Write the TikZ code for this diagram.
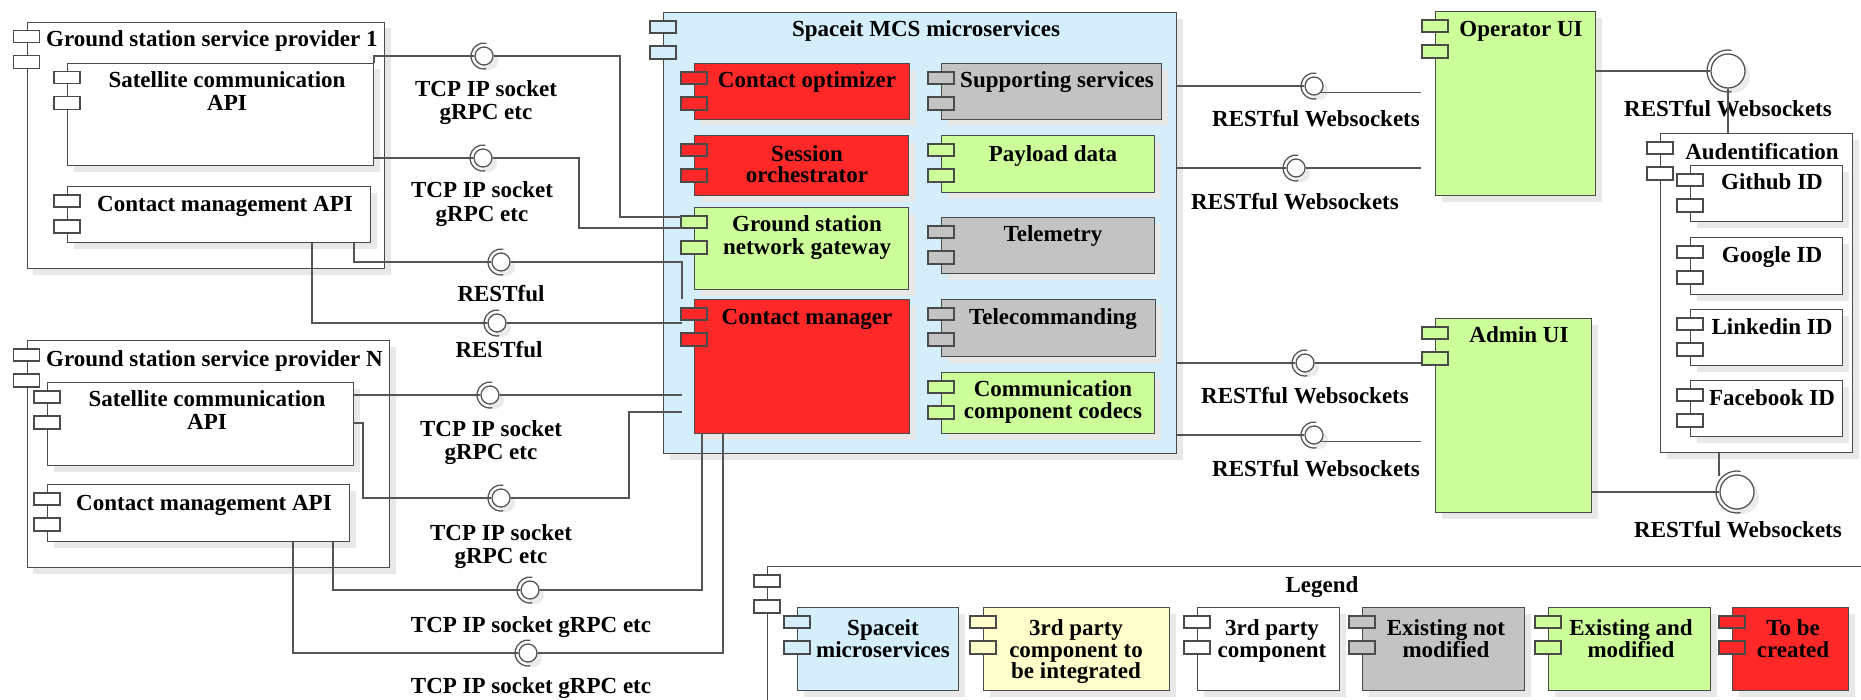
\documentclass[tikz,border=0pt]{standalone}
\usepackage{fontspec}
\setmainfont{Liberation Serif}
\usetikzlibrary{shadows,calc}
\definecolor{mcsblue}{HTML}{D5EEFB}
\definecolor{cred}{HTML}{FF2828}
\definecolor{cgreen}{HTML}{CCFF99}
\definecolor{cgrey}{HTML}{C3C3C3}
\definecolor{cyellow}{HTML}{FFFFCC}
\definecolor{edgec}{HTML}{4A4A4A}
\definecolor{wirec}{HTML}{555555}
\tikzset{
  comp/.style={draw=edgec, line width=1.1pt, rectangle, inner sep=0pt, anchor=north west,
    drop shadow={shadow xshift=6pt, shadow yshift=-6pt, fill=black!9, opacity=1}},
  iconbox/.style={draw=edgec, line width=1.1pt},
  lbl/.style={inner sep=0pt, anchor=base, font=\fontsize{23}{24}\selectfont\bfseries},
  lbll/.style={lbl, anchor=base west},
  wire/.style={draw=wirec, line width=1.3pt},
  ball/.style={circle, draw=wirec, line width=1.3pt, fill=white, minimum size=18pt, inner sep=0pt,
    drop shadow={shadow xshift=5pt, shadow yshift=-5pt, fill=black!8, opacity=1}},
  bigball/.style={ball, minimum size=34pt},
}
\newcommand\comp[6]{%
  \node[comp, fill=#6, minimum width=#4pt-#2pt, minimum height=#5pt-#3pt] (#1) at (#2,#3) {};
  \draw[iconbox, fill=#6] ([xshift=-13pt,yshift=-9pt]#1.north west) rectangle ++(26pt,-12pt);
  \draw[iconbox, fill=#6] ([xshift=-13pt,yshift=-34pt]#1.north west) rectangle ++(26pt,-13pt);
}
\newcommand\sock[2]{%
  \draw[wire] (#1.center) ++(80:#2) arc[start angle=80, end angle=280, radius=#2];
}
\begin{document}
\begin{tikzpicture}[x=1pt,y=-1pt]
\useasboundingbox (0,0) rectangle (1861,700);
\clip (0,0) rectangle (1861,700);

% ---------- Ground station service provider 1
\comp{gs1}{26.5}{21.7}{384}{268}{white}
\comp{sat1}{67}{62.7}{373}{165}{white}
\comp{cm1}{67}{186}{370}{242}{white}
\node[lbll] (t1) at (46,47) {Ground station service provider 1};
\node[lbl] (t2) at (227,88) {Satellite communication};
\node[lbl] (t3) at (227,111) {API};
\node[lbl] (t4) at (225,212) {Contact management API};

% ---------- Ground station service provider N
\comp{gsn}{26.6}{340}{389}{567}{white}
\comp{satn}{47}{382}{353}{465}{white}
\comp{cmn}{47}{484}{349}{541}{white}
\node[lbll] (t5) at (46,367) {Ground station service provider N};
\node[lbl] (t6) at (207,407) {Satellite communication};
\node[lbl] (t7) at (207,430) {API};
\node[lbl] (t8) at (204,510) {Contact management API};

% ---------- Spaceit MCS microservices
\comp{mcs}{663}{12}{1176}{453}{mcsblue}
\node[lbl] (t9) at (926,37) {Spaceit MCS microservices};
\comp{copt}{694}{63}{909}{119}{cred}
\comp{sorch}{694}{135}{908}{195}{cred}
\comp{gwy}{694}{207}{908}{289}{cgreen}
\comp{cmgr}{694}{299}{909}{433}{cred}
\comp{supp}{941}{63}{1161}{119}{cgrey}
\comp{pay}{941}{135}{1154}{192}{cgreen}
\comp{tele}{941}{217}{1154}{273}{cgrey}
\comp{tcmd}{941}{299}{1155}{356}{cgrey}
\comp{codec}{941}{372}{1154}{433}{cgreen}
\node[lbl] (t10) at (807,88) {Contact optimizer};
\node[lbl] (t11) at (807,162) {Session};
\node[lbl] (t12) at (807,183) {orchestrator};
\node[lbl] (t13) at (807,232) {Ground station};
\node[lbl] (t14) at (807,255) {network gateway};
\node[lbl] (t15) at (807,325) {Contact manager};
\node[lbl] (t16) at (1057,88) {Supporting services};
\node[lbl] (t17) at (1053,162) {Payload data};
\node[lbl] (t18) at (1053,242) {Telemetry};
\node[lbl] (t19) at (1053,325) {Telecommanding};
\node[lbl] (t20) at (1053,397) {Communication};
\node[lbl] (t21) at (1053,418) {component codecs};

% ---------- UIs
\comp{opui}{1435}{11}{1595}{195}{cgreen}
\node[lbl] (t22) at (1521,37) {Operator UI};
\comp{adui}{1435}{318}{1591}{512}{cgreen}
\node[lbl] (t23) at (1519,343) {Admin UI};

% ---------- Audentification
\comp{auth}{1660}{133}{1852}{452}{white}
\node[lbl] (t24) at (1762,160) {Audentification};
\comp{gh}{1690}{165}{1842}{221}{white}
\comp{goo}{1690}{237}{1842}{294}{white}
\comp{lin}{1690}{309}{1842}{365}{white}
\comp{fb}{1690}{380}{1842}{436}{white}
\node[lbl] (t25) at (1772,190) {Github ID};
\node[lbl] (t26) at (1772,263) {Google ID};
\node[lbl] (t27) at (1772,335) {Linkedin ID};
\node[lbl] (t28) at (1772,406) {Facebook ID};

% ---------- Legend
\comp{legend}{767}{566}{1900}{710}{white}
\node[lbl] (t29) at (1322,592) {Legend};
\comp{lg1}{797}{607}{958}{690}{mcsblue}
\comp{lg2}{983}{607}{1169}{690}{cyellow}
\comp{lg3}{1197}{607}{1339}{690}{white}
\comp{lg4}{1362}{607}{1524}{690}{cgrey}
\comp{lg5}{1548}{607}{1710}{690}{cgreen}
\comp{lg6}{1732}{607}{1848}{690}{cred}
\node[lbl] (t30) at (883,635) {Spaceit};
\node[lbl] (t31) at (883,657) {microservices};
\node[lbl] (t32) at (1076,635) {3rd party};
\node[lbl] (t33) at (1076,657) {component to};
\node[lbl] (t34) at (1076,678) {be integrated};
\node[lbl] (t35) at (1272,635) {3rd party};
\node[lbl] (t36) at (1272,657) {component};
\node[lbl] (t37) at (1446,635) {Existing not};
\node[lbl] (t38) at (1446,657) {modified};
\node[lbl] (t39) at (1631,635) {Existing and};
\node[lbl] (t40) at (1631,657) {modified};
\node[lbl] (t41) at (1793,635) {To be};
\node[lbl] (t42) at (1793,657) {created};

% ---------- lollipops
\node[ball] (b1) at (484,56) {};
\node[ball] (b2) at (483,158) {};
\node[ball] (b3) at (501,262) {};
\node[ball] (b4) at (497,323) {};
\node[ball] (b5) at (490,395) {};
\node[ball] (b6) at (501,498) {};
\node[ball] (b7) at (530,590) {};
\node[ball] (b8) at (528,653) {};
\node[ball] (b9) at (1314,86) {};
\node[ball] (b10) at (1296,168) {};
\node[ball] (b11) at (1305,363) {};
\node[ball] (b12) at (1314,435) {};
\node[bigball] (b13) at (1728,71) {};
\node[bigball] (b14) at (1737,492) {};
\foreach \b in {b1,b2,b3,b4,b5,b6,b7,b8,b9,b10,b11,b12} {\sock{\b}{13pt}}
\sock{b13}{21pt}
\sock{b14}{21pt}

% lollipop labels
\node[lbl] (l1a) at (486,97) {TCP IP socket};
\node[lbl] (l1b) at (486,120) {gRPC etc};
\node[lbl] (l2a) at (482,198) {TCP IP socket};
\node[lbl] (l2b) at (482,222) {gRPC etc};
\node[lbl] (l3) at (501,302) {RESTful};
\node[lbl] (l4) at (499,358) {RESTful};
\node[lbl] (l5a) at (491,437) {TCP IP socket};
\node[lbl] (l5b) at (491,460) {gRPC etc};
\node[lbl] (l6a) at (501,540) {TCP IP socket};
\node[lbl] (l6b) at (501,563) {gRPC etc};
\node[lbl] (l7) at (531,632) {TCP IP socket gRPC etc};
\node[lbl] (l8) at (531,693) {TCP IP socket gRPC etc};
\node[lbl] (l9) at (1316,127) {RESTful Websockets};
\node[lbl] (l10) at (1295,210) {RESTful Websockets};
\node[lbl] (l11) at (1305,404) {RESTful Websockets};
\node[lbl] (l12) at (1316,476) {RESTful Websockets};
\node[lbl] (l13) at (1728,117) {RESTful Websockets};
\node[lbl] (l14) at (1738,537) {RESTful Websockets};

% ---------- connector end points
\coordinate (gw1) at (682,217);
\coordinate (gw2) at (682,228);
\coordinate (cm3) at (682,299);
\coordinate (cm4) at (682,323);
\coordinate (cm5) at (682,395);
\coordinate (cm6) at (682,412);
\coordinate (s6) at (353,423);
\coordinate (oi) at (1421,0);
\coordinate (a14) at (1719,476);

% ---------- connectors left
\draw[wire] (sat1.north east) |- (b1.west);
\draw[wire] (b1.east) -| (620,217) -- (gw1);
\draw[wire] (sat1.east |- b2.west) -- (b2.west);
\draw[wire] (b2.east) -| (579,228) -- (gw2);
\draw[wire] ([xshift=-17pt]cm1.south east) |- (b3.west);
\draw[wire] (b3.east) -| (cm3);
\draw[wire] ([xshift=-59pt]cm1.south east) |- (b4.west);
\draw[wire] (b4.east) -- (cm4);
\draw[wire] (satn.east |- b5.west) -- (b5.west);
\draw[wire] (b5.east) -- (cm5);
\draw[wire] (s6) -| (363,498) -- (b6.west);
\draw[wire] (b6.east) -| (629,412) -- (cm6);
\draw[wire] ([xshift=-17pt]cmn.south east) |- (b7.west);
\draw[wire] (b7.east) -| ([xshift=8pt]cmgr.south west);
\draw[wire] ([xshift=-57pt]cmn.south east) |- (b8.west);
\draw[wire] (b8.east) -| ([xshift=29pt]cmgr.south west);

% ---------- connectors right
\draw[wire] (mcs.east |- b9.west) -- (b9.west);
\draw[wire] (b9.320) -- (b9.320 -| oi);
\draw[wire] (mcs.east |- b10.west) -- (b10.west);
\draw[wire] (b10.east) -- (b10.east -| oi);
\draw[wire] (mcs.east |- b11.west) -- (b11.west);
\draw[wire] (b11.east) -- (b11.east -| oi);
\draw[wire] (mcs.east |- b12.west) -- (b12.west);
\draw[wire] (b12.320) -- (b12.320 -| oi);
\draw[wire] (opui.east |- b13.west) -- (b13.west);
\draw[wire] (b13.south) -- (b13.south |- auth.north);
\draw[wire] (adui.east |- b14.west) -- (b14.west);
\draw[wire] (a14) -- (a14 |- auth.south);
\end{tikzpicture}
\end{document}
